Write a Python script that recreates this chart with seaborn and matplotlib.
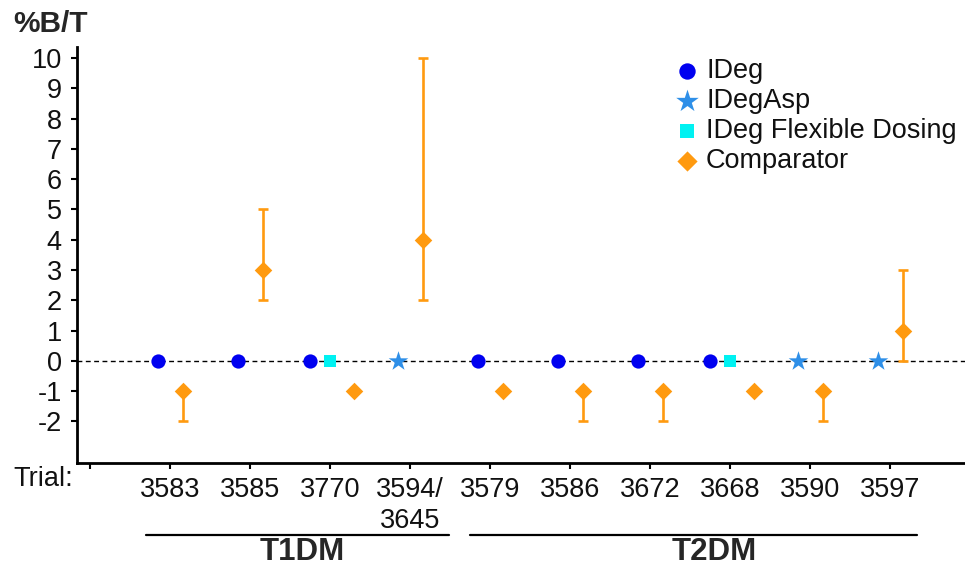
import numpy as np
import pandas as pd
import matplotlib
matplotlib.use("Agg")
import matplotlib.pyplot as plt
import matplotlib.transforms as mtransforms
import seaborn as sns

# ---------------- data ----------------
trials = ["3583", "3585", "3770", "3594/\n3645", "3579", "3586", "3672", "3668", "3590", "3597"]
groups = ["T1DM", "T1DM", "T1DM", "T1DM", "T2DM", "T2DM", "T2DM", "T2DM", "T2DM", "T2DM"]
# reference treatment (all normalised to 0)
ideg_trials = ["3583", "3585", "3770", "3579", "3586", "3672", "3668"]
ideg_values = [0, 0, 0, 0, 0, 0, 0]
idegasp_trials = ["3594/\n3645", "3590", "3597"]
idegasp_values = [0, 0, 0]
flex_trials = ["3770", "3668"]
flex_values = [0, 0]
comparator_values = [-1, 3, -1, 4, -1, -1, -1, -1, -1, 1]
comparator_low = [-2, 2, -1, 2, -1, -2, -2, -1, -2, 0]
comparator_high = [-1, 5, -1, 10, -1, -1, -1, -1, -1, 3]
yticks = list(range(-2, 11))

# ---------------- style ----------------
sns.set_theme(style="ticks")
plt.rcParams["font.family"] = ["Liberation Sans", "DejaVu Sans"]

C_IDEG = "#0000F0"
C_ASP = "#2E8FE8"
C_FLEX = "#00F2F2"
C_COMP = "#FF9A10"
FS = 19.5

fig = plt.figure(figsize=(9.65, 5.68), dpi=100)
ax = fig.add_axes([77 / 965, 1 - 463 / 568, 1 - 77 / 965, (463 - 47) / 568])

pos = {t: i + 1 for i, t in enumerate(trials)}
# dodge offsets (layout only)
def ideg_off(t):
    return -0.25 if t in flex_trials else -0.15

df_ideg = pd.DataFrame({"x": [pos[t] + ideg_off(t) for t in ideg_trials], "y": ideg_values})
df_asp = pd.DataFrame({"x": [pos[t] - 0.15 for t in idegasp_trials], "y": idegasp_values})
df_flex = pd.DataFrame({"x": [pos[t] for t in flex_trials], "y": flex_values})
comp_off = [0.3 if t in flex_trials else 0.16 for t in trials]
df_comp = pd.DataFrame({"x": [pos[t] + o for t, o in zip(trials, comp_off)],
                        "y": comparator_values,
                        "lo": comparator_low, "hi": comparator_high})

ax.axhline(0, color="black", lw=1.0, ls=(0, (3.5, 2.5)), zorder=1)

# error bars for comparator
yerr = np.array([df_comp["y"] - df_comp["lo"], df_comp["hi"] - df_comp["y"]])
ax.errorbar(df_comp["x"], df_comp["y"], yerr=yerr, fmt="none", ecolor=C_COMP,
            elinewidth=1.9, capsize=3.6, capthick=1.9, zorder=2)

sns.scatterplot(data=df_ideg, x="x", y="y", ax=ax, color=C_IDEG, marker="o", s=105,
                linewidth=0, label="IDeg", zorder=3)
sns.scatterplot(data=df_asp, x="x", y="y", ax=ax, color=C_ASP, marker="*", s=220,
                linewidth=0, label="IDegAsp", zorder=3)
sns.scatterplot(data=df_flex, x="x", y="y", ax=ax, color=C_FLEX, marker="s", s=80,
                linewidth=0, label="IDeg Flexible Dosing", zorder=3)
sns.scatterplot(data=df_comp, x="x", y="y", ax=ax, color=C_COMP, marker="D", s=80,
                linewidth=0, label="Comparator", zorder=4)

# axes
ax.set_xlim(-0.1625, (965 - 90) / 80)
ax.set_ylim(-3.37, 10.36)
ax.set_xticks([0] + [pos[t] for t in trials])
ax.set_xticklabels([""] + trials, fontsize=FS, linespacing=1.25)
ax.set_yticks(yticks)
ax.set_yticklabels([str(v) for v in yticks], fontsize=FS)
ax.set_xlabel("")
ax.set_ylabel("")
for s in ["top", "right"]:
    ax.spines[s].set_visible(False)
for s in ["left", "bottom"]:
    ax.spines[s].set_linewidth(2.0)
    ax.spines[s].set_color("black")
ax.tick_params(axis="y", length=4, width=1.5, pad=7, colors="black")
ax.tick_params(axis="x", length=4, width=1.5, pad=6, colors="black")
for lab in ax.get_xticklabels() + ax.get_yticklabels():
    lab.set_color("#111111")

leg = ax.legend(loc="upper left", bbox_to_anchor=(679 / 965, 1 - 58 / 568),
                bbox_transform=fig.transFigure, frameon=False, fontsize=FS,
                handlelength=0.6, handletextpad=0.4, labelspacing=0.15,
                borderpad=0, borderaxespad=0, markerscale=1.15)
for t in leg.get_texts():
    t.set_color("#111111")

# texts
fig.text(13 / 965, 1 - 10 / 568, "%B/T", fontsize=21.5, fontweight="bold", ha="left", va="top")
fig.text(13 / 965, 1 - 466 / 568, "Trial:", fontsize=FS, ha="left", va="top", color="#111111")

# group brackets
trans = mtransforms.blended_transform_factory(ax.transData, fig.transFigure)
y_line = 1 - 535 / 568
y_lab = 1 / 568
brackets = [("T1DM", (146 - 90) / 80, (449 - 90) / 80, (302 - 90) / 80),
            ("T2DM", (470 - 90) / 80, (917 - 90) / 80, (714 - 90) / 80)]
for name, x0, x1, xc in brackets:
    ax.plot([x0, x1], [y_line, y_line], transform=trans, color="black", lw=1.6,
            clip_on=False)
    ax.text(xc, y_lab, name, transform=trans, ha="center", va="bottom",
            fontsize=22.5, fontweight="bold")

fig.savefig("out.png", dpi=100)
